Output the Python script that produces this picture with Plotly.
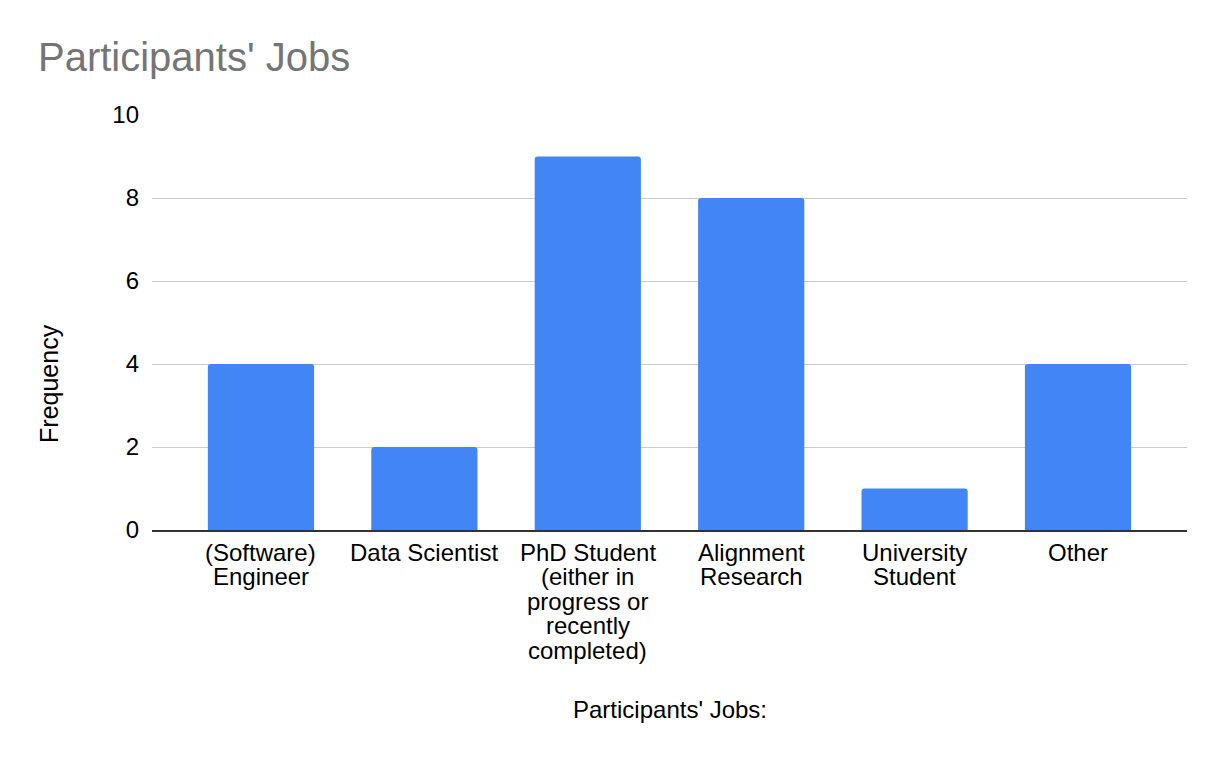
import plotly.graph_objects as go

categories = ["(Software)<br>Engineer", "Data Scientist",
              "PhD Student<br>(either in<br>progress or<br>recently<br>completed)",
              "Alignment<br>Research", "University<br>Student", "Other"]
frequency = [4, 2, 9, 8, 1, 4]
y_ticks = [0, 2, 4, 6, 8, 10]

FONT = "Liberation Sans, Arial, Helvetica, sans-serif"

fig = go.Figure(go.Bar(x=categories, y=frequency,
                       marker=dict(color="#4285F4", cornerradius=3, line=dict(width=0))))

# category labels drawn line by line (tighter line spacing than Plotly's default)
label_annotations = []
for cat in categories:
    for i, line in enumerate(cat.split("<br>")):
        label_annotations.append(dict(
            text=line, xref="x", yref="paper", x=cat, y=0,
            xanchor="center", yanchor="middle", yshift=-(22 + i * 24.5),
            showarrow=False, font=dict(size=24)))

fig.update_layout(
    width=1208, height=744,
    paper_bgcolor="white", plot_bgcolor="white",
    margin=dict(l=144, r=29, t=107, b=222),
    bargap=0.35,
    font=dict(family=FONT, color="#000000", size=24),
    title=dict(text="Participants' Jobs", x=0.0248, xanchor="left", y=0.934, yanchor="middle",
               font=dict(size=40, color="#757575")),
    showlegend=False,
    annotations=label_annotations + [
        dict(text="Participants' Jobs:", xref="paper", yref="paper", x=0.5, y=-0.4337,
             xanchor="center", yanchor="middle", showarrow=False, font=dict(size=24)),
        dict(text="Frequency", xref="paper", yref="paper", x=-0.0995, y=0.352, textangle=-90,
             xanchor="center", yanchor="middle", showarrow=False, font=dict(size=25)),
    ],
)
fig.update_xaxes(range=[-0.667, 5.667], showline=True, linecolor="#333333", linewidth=2,
                 ticks="", showticklabels=False, automargin=False)
fig.update_yaxes(range=[0, 10], tickvals=y_ticks, gridcolor="#cccccc", gridwidth=1,
                 zeroline=False, showline=False, ticks="", tickfont=dict(size=24),
                 ticklabelstandoff=12, automargin=False)

fig.write_html("out.html")
